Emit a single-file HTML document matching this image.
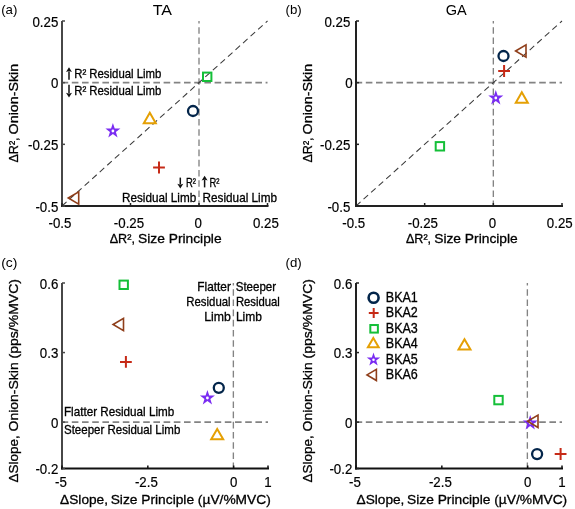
<!DOCTYPE html>
<html><head><meta charset="utf-8"><style>
html,body{margin:0;padding:0;background:#fff;width:575px;height:509px;overflow:hidden}
svg{display:block;will-change:transform}
text{stroke:#000;stroke-width:0.3px}
</style></head><body>
<svg width="575" height="509" viewBox="0 0 575 509" font-family='"Liberation Sans", sans-serif' fill="#000"><rect width="575" height="509" fill="#fff"/><line x1="62" y1="82.66666666666667" x2="267.5" y2="82.66666666666667" stroke="#838383" stroke-width="1.6" stroke-dasharray="6.6 3.6" stroke-dashoffset="0.4"/><line x1="199.0" y1="21" x2="199.0" y2="206" stroke="#838383" stroke-width="1.35" stroke-dasharray="6.6 3.6" stroke-dashoffset="4.0"/><line x1="62" y1="206" x2="267.5" y2="21" stroke="#3a3a3a" stroke-width="1.05" stroke-dasharray="6.1 4.05"/><line x1="62" y1="21" x2="62" y2="207" stroke="#474747" stroke-width="2"/><line x1="61" y1="206" x2="268.5" y2="206" stroke="#222" stroke-width="1.8"/><line x1="62" y1="21.0" x2="65" y2="21.0" stroke="#474747" stroke-width="1.5"/><line x1="62" y1="82.66666666666667" x2="65" y2="82.66666666666667" stroke="#474747" stroke-width="1.5"/><line x1="62" y1="144.33333333333334" x2="65" y2="144.33333333333334" stroke="#474747" stroke-width="1.5"/><line x1="62" y1="206.0" x2="65" y2="206.0" stroke="#474747" stroke-width="1.5"/><line x1="62.0" y1="206" x2="62.0" y2="203" stroke="#222" stroke-width="1.5"/><line x1="130.5" y1="206" x2="130.5" y2="203" stroke="#222" stroke-width="1.5"/><line x1="199.0" y1="206" x2="199.0" y2="203" stroke="#222" stroke-width="1.5"/><line x1="267.5" y1="206" x2="267.5" y2="203" stroke="#222" stroke-width="1.5"/><line x1="356" y1="82.66666666666667" x2="562" y2="82.66666666666667" stroke="#838383" stroke-width="1.6" stroke-dasharray="6.6 3.6" stroke-dashoffset="0.4"/><line x1="493.33333333333337" y1="21" x2="493.33333333333337" y2="206" stroke="#838383" stroke-width="1.35" stroke-dasharray="6.6 3.6" stroke-dashoffset="4.0"/><line x1="356" y1="206" x2="562" y2="21" stroke="#3a3a3a" stroke-width="1.05" stroke-dasharray="6.1 4.05"/><line x1="356" y1="21" x2="356" y2="207" stroke="#222" stroke-width="2"/><line x1="355" y1="206" x2="563" y2="206" stroke="#222" stroke-width="1.8"/><line x1="356" y1="21.0" x2="359" y2="21.0" stroke="#222" stroke-width="1.5"/><line x1="356" y1="82.66666666666667" x2="359" y2="82.66666666666667" stroke="#222" stroke-width="1.5"/><line x1="356" y1="144.33333333333334" x2="359" y2="144.33333333333334" stroke="#222" stroke-width="1.5"/><line x1="356" y1="206.0" x2="359" y2="206.0" stroke="#222" stroke-width="1.5"/><line x1="356.0" y1="206" x2="356.0" y2="203" stroke="#222" stroke-width="1.5"/><line x1="424.6666666666667" y1="206" x2="424.6666666666667" y2="203" stroke="#222" stroke-width="1.5"/><line x1="493.33333333333337" y1="206" x2="493.33333333333337" y2="203" stroke="#222" stroke-width="1.5"/><line x1="562.0" y1="206" x2="562.0" y2="203" stroke="#222" stroke-width="1.5"/><line x1="62" y1="422.125" x2="268" y2="422.125" stroke="#838383" stroke-width="1.6" stroke-dasharray="6.6 3.6" stroke-dashoffset="0.4"/><line x1="233.36666666666665" y1="283" x2="233.36666666666665" y2="468.5" stroke="#838383" stroke-width="1.35" stroke-dasharray="6.6 3.6" stroke-dashoffset="4.0"/><line x1="62" y1="283" x2="62" y2="469.5" stroke="#474747" stroke-width="2"/><line x1="61" y1="468.5" x2="269" y2="468.5" stroke="#111" stroke-width="1.8"/><line x1="62" y1="283.0" x2="65" y2="283.0" stroke="#474747" stroke-width="1.5"/><line x1="62" y1="352.5625" x2="65" y2="352.5625" stroke="#474747" stroke-width="1.5"/><line x1="62" y1="422.125" x2="65" y2="422.125" stroke="#474747" stroke-width="1.5"/><line x1="62" y1="468.5" x2="65" y2="468.5" stroke="#474747" stroke-width="1.5"/><line x1="62.0" y1="468.5" x2="62.0" y2="465.5" stroke="#111" stroke-width="1.5"/><line x1="147.83333333333331" y1="468.5" x2="147.83333333333331" y2="465.5" stroke="#111" stroke-width="1.5"/><line x1="233.66666666666666" y1="468.5" x2="233.66666666666666" y2="465.5" stroke="#111" stroke-width="1.5"/><line x1="268.0" y1="468.5" x2="268.0" y2="465.5" stroke="#111" stroke-width="1.5"/><line x1="356" y1="422.125" x2="562" y2="422.125" stroke="#838383" stroke-width="1.6" stroke-dasharray="6.6 3.6" stroke-dashoffset="0.4"/><line x1="527.3666666666667" y1="283" x2="527.3666666666667" y2="468.5" stroke="#838383" stroke-width="1.35" stroke-dasharray="6.6 3.6" stroke-dashoffset="4.0"/><line x1="356" y1="283" x2="356" y2="469.5" stroke="#222" stroke-width="2"/><line x1="355" y1="468.5" x2="563" y2="468.5" stroke="#111" stroke-width="1.8"/><line x1="356" y1="283.0" x2="359" y2="283.0" stroke="#222" stroke-width="1.5"/><line x1="356" y1="352.5625" x2="359" y2="352.5625" stroke="#222" stroke-width="1.5"/><line x1="356" y1="422.125" x2="359" y2="422.125" stroke="#222" stroke-width="1.5"/><line x1="356" y1="468.5" x2="359" y2="468.5" stroke="#222" stroke-width="1.5"/><line x1="356.0" y1="468.5" x2="356.0" y2="465.5" stroke="#111" stroke-width="1.5"/><line x1="441.8333333333333" y1="468.5" x2="441.8333333333333" y2="465.5" stroke="#111" stroke-width="1.5"/><line x1="527.6666666666666" y1="468.5" x2="527.6666666666666" y2="465.5" stroke="#111" stroke-width="1.5"/><line x1="562.0" y1="468.5" x2="562.0" y2="465.5" stroke="#111" stroke-width="1.5"/><text transform="translate(58.30 26.70) scale(0.95 1)" font-size="14.0" text-anchor="end" style="stroke-width:0.2px">0.25</text><text transform="translate(58.30 88.37) scale(0.95 1)" font-size="14.0" text-anchor="end" style="stroke-width:0.2px">0</text><text transform="translate(58.30 150.03) scale(0.95 1)" font-size="14.0" text-anchor="end" style="stroke-width:0.2px">-0.25</text><text transform="translate(58.30 211.70) scale(0.95 1)" font-size="14.0" text-anchor="end" style="stroke-width:0.2px">-0.5</text><text transform="translate(60.00 227.50) scale(0.95 1)" font-size="14.0" text-anchor="middle" style="stroke-width:0.2px">-0.5</text><text transform="translate(129.00 227.50) scale(0.95 1)" font-size="14.0" text-anchor="middle" style="stroke-width:0.2px">-0.25</text><text transform="translate(198.20 227.50) scale(0.95 1)" font-size="14.0" text-anchor="middle" style="stroke-width:0.2px">0</text><text transform="translate(265.90 227.50) scale(0.95 1)" font-size="14.0" text-anchor="middle" style="stroke-width:0.2px">0.25</text><text transform="translate(350.30 26.70) scale(0.95 1)" font-size="14.0" text-anchor="end" style="stroke-width:0.2px">0.25</text><text transform="translate(350.30 150.03) scale(0.95 1)" font-size="14.0" text-anchor="end" style="stroke-width:0.2px">-0.25</text><text transform="translate(350.30 211.70) scale(0.95 1)" font-size="14.0" text-anchor="end" style="stroke-width:0.2px">-0.5</text><text transform="translate(352.70 88.37) scale(0.95 1)" font-size="14.0" text-anchor="end" style="stroke-width:0.2px">0</text><text transform="translate(353.70 227.50) scale(0.95 1)" font-size="14.0" text-anchor="middle" style="stroke-width:0.2px">-0.5</text><text transform="translate(422.87 227.50) scale(0.95 1)" font-size="14.0" text-anchor="middle" style="stroke-width:0.2px">-0.25</text><text transform="translate(492.53 227.50) scale(0.95 1)" font-size="14.0" text-anchor="middle" style="stroke-width:0.2px">0</text><text transform="translate(559.80 227.50) scale(0.95 1)" font-size="14.0" text-anchor="middle" style="stroke-width:0.2px">0.25</text><text transform="translate(58.30 288.70) scale(0.95 1)" font-size="14.0" text-anchor="end" style="stroke-width:0.2px">0.6</text><text transform="translate(58.30 358.26) scale(0.95 1)" font-size="14.0" text-anchor="end" style="stroke-width:0.2px">0.3</text><text transform="translate(58.30 427.82) scale(0.95 1)" font-size="14.0" text-anchor="end" style="stroke-width:0.2px">0</text><text transform="translate(58.30 474.20) scale(0.95 1)" font-size="14.0" text-anchor="end" style="stroke-width:0.2px">-0.2</text><text transform="translate(61.00 487.00) scale(0.95 1)" font-size="14.0" text-anchor="middle" style="stroke-width:0.2px">-5</text><text transform="translate(146.33 487.00) scale(0.95 1)" font-size="14.0" text-anchor="middle" style="stroke-width:0.2px">-2.5</text><text transform="translate(233.67 487.00) scale(0.95 1)" font-size="14.0" text-anchor="middle" style="stroke-width:0.2px">0</text><text transform="translate(268.00 487.00) scale(0.95 1)" font-size="14.0" text-anchor="middle" style="stroke-width:0.2px">1</text><text transform="translate(352.30 288.70) scale(0.95 1)" font-size="14.0" text-anchor="end" style="stroke-width:0.2px">0.6</text><text transform="translate(352.30 358.26) scale(0.95 1)" font-size="14.0" text-anchor="end" style="stroke-width:0.2px">0.3</text><text transform="translate(352.30 427.82) scale(0.95 1)" font-size="14.0" text-anchor="end" style="stroke-width:0.2px">0</text><text transform="translate(352.30 474.20) scale(0.95 1)" font-size="14.0" text-anchor="end" style="stroke-width:0.2px">-0.2</text><text transform="translate(355.00 487.00) scale(0.95 1)" font-size="14.0" text-anchor="middle" style="stroke-width:0.2px">-5</text><text transform="translate(440.33 487.00) scale(0.95 1)" font-size="14.0" text-anchor="middle" style="stroke-width:0.2px">-2.5</text><text transform="translate(527.67 487.00) scale(0.95 1)" font-size="14.0" text-anchor="middle" style="stroke-width:0.2px">0</text><text transform="translate(562.00 487.00) scale(0.95 1)" font-size="14.0" text-anchor="middle" style="stroke-width:0.2px">1</text><text x="109.70" y="242.9" font-size="13.5" text-anchor="start"  textLength="25.2" lengthAdjust="spacingAndGlyphs">ΔR²,</text><text x="138.00" y="242.9" font-size="13.5" text-anchor="start"  textLength="83.6" lengthAdjust="spacingAndGlyphs">Size Principle</text><text x="405.90" y="242.9" font-size="13.5" text-anchor="start"  textLength="25.2" lengthAdjust="spacingAndGlyphs">ΔR²,</text><text x="434.20" y="242.9" font-size="13.5" text-anchor="start"  textLength="83.6" lengthAdjust="spacingAndGlyphs">Size Principle</text><text x="60.10" y="503.8" font-size="13.5" text-anchor="start"  textLength="47.9" lengthAdjust="spacingAndGlyphs">ΔSlope,</text><text x="110.70" y="503.8" font-size="13.5" text-anchor="start"  textLength="160.1" lengthAdjust="spacingAndGlyphs">Size Principle (µV/%MVC)</text><text x="356.50" y="503.8" font-size="13.5" text-anchor="start"  textLength="47.9" lengthAdjust="spacingAndGlyphs">ΔSlope,</text><text x="407.10" y="503.8" font-size="13.5" text-anchor="start"  textLength="160.1" lengthAdjust="spacingAndGlyphs">Size Principle (µV/%MVC)</text><text transform="translate(18.0 162.60) rotate(-90)" font-size="13.5" textLength="25.2" lengthAdjust="spacingAndGlyphs">ΔR²,</text><text transform="translate(18.0 134.40) rotate(-90)" font-size="13.5" textLength="70.6" lengthAdjust="spacingAndGlyphs">Onion-Skin</text><text transform="translate(312.1 162.60) rotate(-90)" font-size="13.5" textLength="25.2" lengthAdjust="spacingAndGlyphs">ΔR²,</text><text transform="translate(312.1 134.40) rotate(-90)" font-size="13.5" textLength="70.6" lengthAdjust="spacingAndGlyphs">Onion-Skin</text><text transform="translate(18.4 482.60) rotate(-90)" font-size="13.5" textLength="47.3" lengthAdjust="spacingAndGlyphs">ΔSlope,</text><text transform="translate(18.4 431.50) rotate(-90)" font-size="13.5" textLength="152.4" lengthAdjust="spacingAndGlyphs">Onion-Skin (pps/%MVC)</text><text transform="translate(312.2 482.60) rotate(-90)" font-size="13.5" textLength="47.3" lengthAdjust="spacingAndGlyphs">ΔSlope,</text><text transform="translate(312.2 431.50) rotate(-90)" font-size="13.5" textLength="152.4" lengthAdjust="spacingAndGlyphs">Onion-Skin (pps/%MVC)</text><text x="162.4" y="15.0" font-size="15" text-anchor="middle" style="stroke:none" textLength="19.3" lengthAdjust="spacingAndGlyphs">TA</text><text x="456.3" y="15.4" font-size="15" text-anchor="middle" style="stroke:none" textLength="21.0" lengthAdjust="spacingAndGlyphs">GA</text><text x="1.2" y="13.7" font-size="13.2" text-anchor="start" style="stroke:none" textLength="16.2" lengthAdjust="spacingAndGlyphs">(a)</text><text x="285.6" y="13.7" font-size="13.2" text-anchor="start" style="stroke:none" textLength="16.2" lengthAdjust="spacingAndGlyphs">(b)</text><text x="1.2" y="267.0" font-size="13.2" text-anchor="start" style="stroke:none" textLength="16.2" lengthAdjust="spacingAndGlyphs">(c)</text><text x="285.6" y="267.0" font-size="13.2" text-anchor="start" style="stroke:none" textLength="16.2" lengthAdjust="spacingAndGlyphs">(d)</text><path d="M69.0 79.8V71.39999999999999" stroke="#111" stroke-width="1.5"/><path d="M66.0 71.89999999999999L69.0 67.3L72.0 71.89999999999999Q69.0 70.69999999999999 66.0 71.89999999999999Z" fill="#111"/><text x="74.2" y="78.2" font-size="12.2" text-anchor="start"  textLength="87.2" lengthAdjust="spacingAndGlyphs">R² Residual Limb</text><path d="M69.0 84.8V93.30000000000001" stroke="#111" stroke-width="1.5"/><path d="M66.0 92.80000000000001L69.0 97.4L72.0 92.80000000000001Q69.0 94.00000000000001 66.0 92.80000000000001Z" fill="#111"/><text x="74.2" y="94.7" font-size="12.2" text-anchor="start"  textLength="87.2" lengthAdjust="spacingAndGlyphs">R² Residual Limb</text><path d="M180.3 177.6V184.3" stroke="#111" stroke-width="1.5"/><path d="M177.3 183.8L180.3 188.4L183.3 183.8Q180.3 185.0 177.3 183.8Z" fill="#111"/><text x="185.9" y="186.7" font-size="12.2" text-anchor="start"  textLength="10.0" lengthAdjust="spacingAndGlyphs">R²</text><path d="M204.6 187.4V179.9" stroke="#111" stroke-width="1.5"/><path d="M201.6 180.4L204.6 175.8L207.6 180.4Q204.6 179.20000000000002 201.6 180.4Z" fill="#111"/><text x="209.4" y="186.7" font-size="12.2" text-anchor="start"  textLength="10.0" lengthAdjust="spacingAndGlyphs">R²</text><text x="122.0" y="201.5" font-size="12.2" text-anchor="start"  textLength="74.2" lengthAdjust="spacingAndGlyphs">Residual Limb</text><text x="202.6" y="201.5" font-size="12.2" text-anchor="start"  textLength="74.4" lengthAdjust="spacingAndGlyphs">Residual Limb</text><text x="197.3" y="290.6" font-size="12.2" text-anchor="start"  textLength="33.6" lengthAdjust="spacingAndGlyphs">Flatter</text><text x="186.3" y="305.8" font-size="12.2" text-anchor="start"  textLength="44.3" lengthAdjust="spacingAndGlyphs">Residual</text><text x="204.3" y="321.0" font-size="12.2" text-anchor="start"  textLength="26.6" lengthAdjust="spacingAndGlyphs">Limb</text><text x="235.7" y="290.6" font-size="12.2" text-anchor="start"  textLength="40.4" lengthAdjust="spacingAndGlyphs">Steeper</text><text x="235.9" y="305.8" font-size="12.2" text-anchor="start"  textLength="44.0" lengthAdjust="spacingAndGlyphs">Residual</text><text x="235.9" y="321.0" font-size="12.2" text-anchor="start"  textLength="26.0" lengthAdjust="spacingAndGlyphs">Limb</text><text x="64.0" y="416.2" font-size="12.2" text-anchor="start"  textLength="110.2" lengthAdjust="spacingAndGlyphs">Flatter Residual Limb</text><text x="64.0" y="433.6" font-size="12.2" text-anchor="start"  textLength="116.3" lengthAdjust="spacingAndGlyphs">Steeper Residual Limb</text><circle cx="373.60" cy="297.80" r="5.00" fill="none" stroke="#03254a" stroke-width="2.5999999999999996"/><path d="M368.80 313.00H378.60M373.70 308.10V317.90" stroke="#c62a17" stroke-width="2.0" fill="none"/><rect x="370.32" y="325.02" width="7.56" height="7.56" fill="none" stroke="#14bf38" stroke-width="2.0"/><path d="M373.30 337.92L378.70 347.28H367.90Z" fill="none" stroke="#e5a004" stroke-width="2.0" stroke-linejoin="miter" stroke-miterlimit="3"/><polygon points="373.50,352.59 375.15,357.43 380.26,357.50 376.17,360.57 377.68,365.45 373.50,362.51 369.32,365.45 370.83,360.57 366.74,357.50 371.85,357.43" fill="#7a2cf2"/><circle cx="373.50" cy="359.70" r="1.26" fill="#fff"/><path d="M367.02 374.90L376.38 369.32V380.48Z" fill="none" stroke="#8f3e1a" stroke-width="1.6" stroke-linejoin="miter" stroke-miterlimit="3"/><text x="385.8" y="302.10" font-size="13.9" text-anchor="start"  textLength="32.0" lengthAdjust="spacingAndGlyphs">BKA1</text><text x="385.8" y="317.40" font-size="13.9" text-anchor="start"  textLength="32.0" lengthAdjust="spacingAndGlyphs">BKA2</text><text x="385.8" y="332.90" font-size="13.9" text-anchor="start"  textLength="32.0" lengthAdjust="spacingAndGlyphs">BKA3</text><text x="385.8" y="347.90" font-size="13.9" text-anchor="start"  textLength="32.0" lengthAdjust="spacingAndGlyphs">BKA4</text><text x="385.8" y="364.00" font-size="13.9" text-anchor="start"  textLength="32.0" lengthAdjust="spacingAndGlyphs">BKA5</text><text x="385.8" y="379.20" font-size="13.9" text-anchor="start"  textLength="32.0" lengthAdjust="spacingAndGlyphs">BKA6</text><circle cx="193.00" cy="111.00" r="5.00" fill="none" stroke="#03254a" stroke-width="2.3"/><path d="M153.10 167.50H164.90M159.00 161.60V173.40" stroke="#c62a17" stroke-width="2.0" fill="none"/><rect x="203.00" y="72.60" width="8.40" height="8.40" fill="none" stroke="#14bf38" stroke-width="2.0"/><path d="M149.80 112.80L155.80 123.20H143.80Z" fill="none" stroke="#e5a004" stroke-width="2.0" stroke-linejoin="miter" stroke-miterlimit="3"/><polygon points="112.90,123.10 114.73,128.48 120.41,128.56 115.87,131.96 117.54,137.39 112.90,134.12 108.26,137.39 109.93,131.96 105.39,128.56 111.07,128.48" fill="#7a2cf2"/><circle cx="112.90" cy="131.00" r="1.40" fill="#fff"/><path d="M68.30 198.00L78.70 191.80V204.20Z" fill="none" stroke="#8f3e1a" stroke-width="1.6" stroke-linejoin="miter" stroke-miterlimit="3"/><circle cx="503.50" cy="56.00" r="5.00" fill="none" stroke="#03254a" stroke-width="2.3"/><path d="M498.20 71.00H510.00M504.10 65.10V76.90" stroke="#c62a17" stroke-width="2.0" fill="none"/><rect x="435.70" y="142.10" width="8.40" height="8.40" fill="none" stroke="#14bf38" stroke-width="2.0"/><path d="M521.80 92.30L527.80 102.70H515.80Z" fill="none" stroke="#e5a004" stroke-width="2.0" stroke-linejoin="miter" stroke-miterlimit="3"/><polygon points="495.80,90.10 497.63,95.48 503.31,95.56 498.77,98.96 500.44,104.39 495.80,101.12 491.16,104.39 492.83,98.96 488.29,95.56 493.97,95.48" fill="#7a2cf2"/><circle cx="495.80" cy="98.00" r="1.40" fill="#fff"/><path d="M515.60 51.00L526.00 44.80V57.20Z" fill="none" stroke="#8f3e1a" stroke-width="1.6" stroke-linejoin="miter" stroke-miterlimit="3"/><circle cx="218.80" cy="387.80" r="5.00" fill="none" stroke="#03254a" stroke-width="2.3"/><path d="M120.00 361.90H131.80M125.90 356.00V367.80" stroke="#c62a17" stroke-width="2.0" fill="none"/><rect x="119.50" y="280.60" width="8.40" height="8.40" fill="none" stroke="#14bf38" stroke-width="2.0"/><path d="M217.20 428.90L223.20 439.30H211.20Z" fill="none" stroke="#e5a004" stroke-width="2.0" stroke-linejoin="miter" stroke-miterlimit="3"/><polygon points="207.40,390.10 209.23,395.48 214.91,395.56 210.37,398.96 212.04,404.39 207.40,401.12 202.76,404.39 204.43,398.96 199.89,395.56 205.57,395.48" fill="#7a2cf2"/><circle cx="207.40" cy="398.00" r="1.40" fill="#fff"/><path d="M113.10 324.50L123.50 318.30V330.70Z" fill="none" stroke="#8f3e1a" stroke-width="1.6" stroke-linejoin="miter" stroke-miterlimit="3"/><circle cx="537.10" cy="454.10" r="5.00" fill="none" stroke="#03254a" stroke-width="2.3"/><path d="M554.70 454.00H566.50M560.60 448.10V459.90" stroke="#c62a17" stroke-width="2.0" fill="none"/><rect x="494.30" y="395.90" width="8.40" height="8.40" fill="none" stroke="#14bf38" stroke-width="2.0"/><path d="M464.50 339.20L470.50 349.60H458.50Z" fill="none" stroke="#e5a004" stroke-width="2.0" stroke-linejoin="miter" stroke-miterlimit="3"/><polygon points="530.20,415.10 532.03,420.48 537.71,420.56 533.17,423.96 534.84,429.39 530.20,426.12 525.56,429.39 527.23,423.96 522.69,420.56 528.37,420.48" fill="#7a2cf2"/><circle cx="530.20" cy="423.00" r="1.40" fill="#fff"/><path d="M527.60 421.30L538.00 415.10V427.50Z" fill="none" stroke="#8f3e1a" stroke-width="1.6" stroke-linejoin="miter" stroke-miterlimit="3"/></svg>
</body></html>
